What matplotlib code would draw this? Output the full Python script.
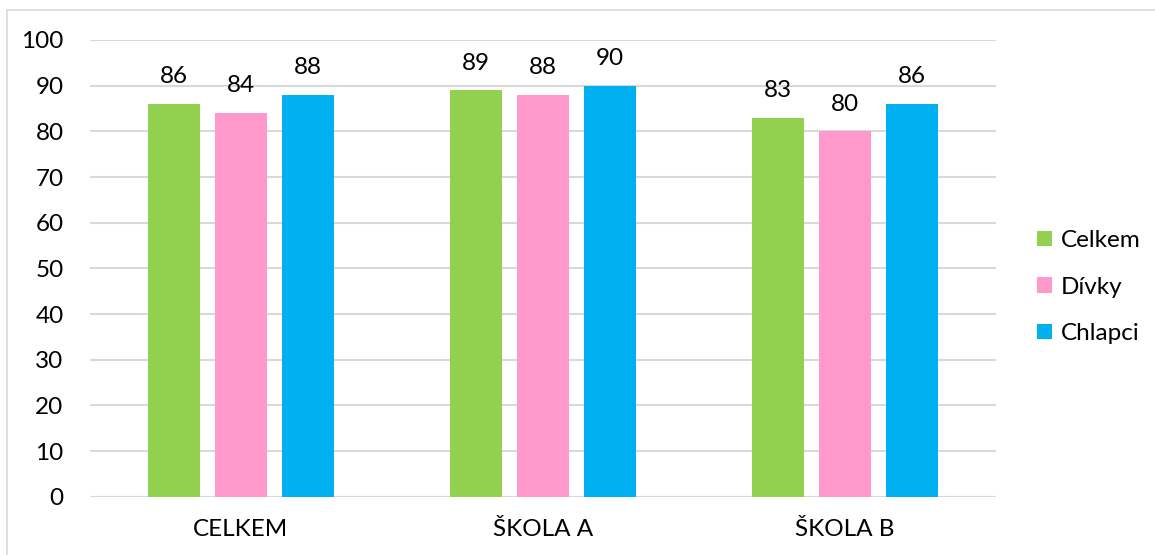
import matplotlib
matplotlib.use("Agg")
import matplotlib.pyplot as plt
import numpy as np
from matplotlib.lines import Line2D
from matplotlib.patches import Patch

plt.rcParams['font.family'] = ['Lato', 'DejaVu Sans']

categories = ["CELKEM", "ŠKOLA A", "ŠKOLA B"]
series_names = ["Celkem", "Dívky", "Chlapci"]
celkem = [86, 89, 83]
divky = [84, 88, 80]
chlapci = [88, 90, 86]
y_ticks = [0, 10, 20, 30, 40, 50, 60, 70, 80, 90, 100]

colors = ["#92D050", "#FF99CC", "#00B0F0"]
grid_color = "#D9D9D9"
fs = 17.5

fig = plt.figure(figsize=(11.55, 5.55), dpi=100)
ax = fig.add_axes([90 / 1155, 1 - 496.7 / 555, (996 - 90) / 1155, (496.7 - 40) / 555])

x = np.arange(len(categories))
width = 0.172
step = 0.222
for i, (vals, name, col) in enumerate(zip([celkem, divky, chlapci], series_names, colors)):
    pos = x + (i - 1) * step
    bars = ax.bar(pos, vals, width=width, color=col, label=name, zorder=3)
    for b, v in zip(bars, vals):
        ax.annotate(f"{v}", (b.get_x() + b.get_width() / 2, v),
                    xytext=(0, 12), textcoords="offset points",
                    ha="center", va="bottom", fontsize=fs, color="#000000")

ax.set_xlim(-0.5, len(categories) - 0.5)
ax.set_ylim(0, 100)
ax.set_yticks(y_ticks)
ax.set_xticks(x)
ax.set_xticklabels(categories)
ax.tick_params(axis="both", length=0, labelsize=fs, colors="#000000")
ax.tick_params(axis="y", pad=19)
ax.tick_params(axis="x", pad=16)
ax.yaxis.grid(True, color=grid_color, linewidth=1.5, zorder=0)
for s in ax.spines.values():
    s.set_visible(False)
ax.axhline(0, color=grid_color, linewidth=1.5, zorder=2)

handles = [Patch(facecolor=c, edgecolor="none") for c in colors]
fig.legend(handles, series_names, loc="center left", bbox_to_anchor=(1037 / 1155, 1 - 287 / 555),
           frameon=False, fontsize=fs, handlelength=0.62, handleheight=0.62,
           handletextpad=0.35, labelspacing=1.05, borderaxespad=0, borderpad=0)

# outer chart border
border_color = "#D9D9D9"
fig.add_artist(Line2D([7 / 1155, 1.0], [1 - 10 / 555, 1 - 10 / 555], transform=fig.transFigure,
                      color=border_color, linewidth=1.2))
fig.add_artist(Line2D([7 / 1155, 7 / 1155], [0.0, 1 - 10 / 555], transform=fig.transFigure,
                      color=border_color, linewidth=1.2))

fig.savefig("out.png", dpi=100)
